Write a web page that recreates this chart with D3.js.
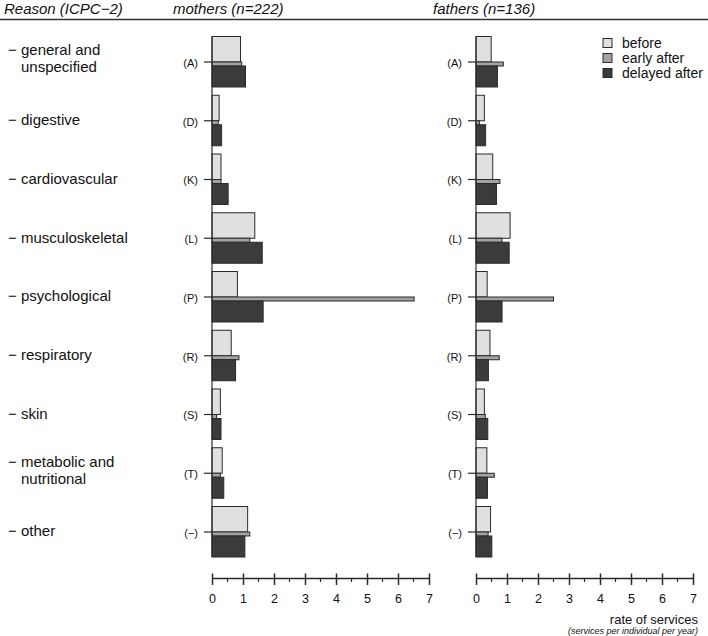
<!DOCTYPE html>
<html>
<head>
<meta charset="utf-8">
<script src="https://cdn.jsdelivr.net/npm/d3@7/dist/d3.min.js"></script>
<style>
  html, body { margin: 0; padding: 0; background: #fff; }
  svg { display: block; font-family: "Liberation Sans", Arial, Helvetica, sans-serif; }
</style>
</head>
<body>
<svg id="chart" width="708" height="636"></svg>
<script>
// ---- data ----
const codes = ["(A)", "(D)", "(K)", "(L)", "(P)", "(R)", "(S)", "(T)", "(\u2212)"];
const reasonLabels = [
  ["general and", "unspecified"],
  ["digestive"],
  ["cardiovascular"],
  ["musculoskeletal"],
  ["psychological"],
  ["respiratory"],
  ["skin"],
  ["metabolic and", "nutritional"],
  ["other"]
];
const seriesNames = ["before", "early after", "delayed after"];
const mothersBefore  = [0.92, 0.23, 0.29, 1.38, 0.82, 0.62, 0.27, 0.33, 1.15];
const mothersEarly   = [0.96, 0.20, 0.29, 1.22, 6.52, 0.87, 0.15, 0.27, 1.22];
const mothersDelayed = [1.08, 0.31, 0.52, 1.62, 1.65, 0.76, 0.29, 0.38, 1.06];
const fathersBefore  = [0.49, 0.27, 0.54, 1.10, 0.36, 0.45, 0.27, 0.35, 0.47];
const fathersEarly   = [0.88, 0.11, 0.77, 0.84, 2.50, 0.75, 0.30, 0.59, 0.39];
const fathersDelayed = [0.69, 0.31, 0.66, 1.07, 0.84, 0.40, 0.38, 0.37, 0.51];
const tickValues = [0, 1, 2, 3, 4, 5, 6, 7];
const panelTitles = ["mothers (n=222)", "fathers (n=136)"];

// ---- layout ----
const svg = d3.select("#chart");
const fills = ["#e0e0e0", "#a3a3a3", "#3b3b3b"];
const stroke = "#2a2a2a";
const y = d3.scaleLinear().domain([0, codes.length - 1]).range([62, 532]);
// bar band offsets relative to category centre (before above, early thin, delayed below)
const bandTop = [-25.5, 0, 4];
const bandBot = [0, 4, 25];

const panels = [
  { title: panelTitles[0], x0: 212, titleX: 173, series: [mothersBefore, mothersEarly, mothersDelayed] },
  { title: panelTitles[1], x0: 476, titleX: 433, series: [fathersBefore, fathersEarly, fathersDelayed] }
];

// header
svg.append("text").attr("x", 4).attr("y", 14).attr("font-size", 15).attr("font-style", "italic")
  .attr("fill", "#111").text("Reason (ICPC\u22122)");
panels.forEach(p => {
  svg.append("text").attr("x", p.titleX).attr("y", 14).attr("font-size", 15).attr("font-style", "italic")
    .attr("fill", "#111").text(p.title);
});
svg.append("line").attr("x1", 0).attr("x2", 708).attr("y1", 19.5).attr("y2", 19.5)
  .attr("stroke", "#333").attr("stroke-width", 1.5);

// category labels
reasonLabels.forEach((lines, i) => {
  const c = y(i);
  const ys = lines.length === 1 ? [c - 1] : [c - 12, c + 5];
  svg.append("text").attr("x", 8).attr("y", ys[0]).attr("dy", "0.35em")
    .attr("font-size", 15).attr("fill", "#111").text("\u2212");
  lines.forEach((t, k) => {
    svg.append("text").attr("x", 21).attr("y", ys[k]).attr("dy", "0.35em")
      .attr("font-size", 15).attr("fill", "#111").text(t);
  });
});

panels.forEach(p => {
  const x = d3.scaleLinear().domain([0, 7]).range([p.x0, p.x0 + 217]);
  const g = svg.append("g");

  // bars
  p.series.forEach((vals, s) => {
    g.selectAll(null).data(vals).enter().append("rect")
      .attr("x", x(0))
      .attr("y", (d, i) => y(i) + bandTop[s])
      .attr("width", d => x(d) - x(0))
      .attr("height", bandBot[s] - bandTop[s])
      .attr("fill", fills[s]).attr("stroke", stroke).attr("stroke-width", 1);
  });

  // vertical baseline
  g.append("line").attr("x1", x(0)).attr("x2", x(0))
    .attr("y1", y(0) + bandTop[0]).attr("y2", y(codes.length - 1) + bandBot[2])
    .attr("stroke", stroke).attr("stroke-width", 1.2);

  // category ticks and codes
  codes.forEach((code, i) => {
    g.append("line").attr("x1", x(0) - 8).attr("x2", x(0))
      .attr("y1", y(i)).attr("y2", y(i)).attr("stroke", stroke).attr("stroke-width", 1.2);
    g.append("text").attr("x", x(0) - 14).attr("y", y(i) + 1).attr("dy", "0.35em")
      .attr("text-anchor", "end").attr("font-size", 11).attr("fill", "#111").text(code);
  });

  // x axis
  const ay = 578;
  const axis = d3.axisBottom(x).tickValues(tickValues).tickSize(0).tickFormat(d3.format("d"));
  const ag = g.append("g").attr("transform", `translate(0,${ay})`).call(axis);
  ag.select(".domain").attr("stroke", stroke).attr("stroke-width", 1.5);
  ag.selectAll(".tick text").attr("font-size", 12.5).attr("font-family", "Liberation Sans, Arial, sans-serif")
    .attr("fill", "#111").attr("y", 16).attr("dy", "0.71em");
  ag.selectAll(".tick").append("line").attr("y1", -4.5).attr("y2", 7).attr("stroke", stroke).attr("stroke-width", 1.5);
  const minor = d3.range(0.5, 7, 1);
  ag.selectAll(".minor").data(minor).enter().append("line").attr("class", "minor")
    .attr("x1", d => x(d)).attr("x2", d => x(d)).attr("y1", 0).attr("y2", 4)
    .attr("stroke", stroke).attr("stroke-width", 1.2);
});

// axis title
svg.append("text").attr("x", 698).attr("y", 619).attr("dy", "0.35em").attr("text-anchor", "end")
  .attr("font-size", 13).attr("fill", "#111").text("rate of services");
svg.append("text").attr("x", 698).attr("y", 631).attr("dy", "0.35em").attr("text-anchor", "end")
  .attr("font-size", 9).attr("font-style", "italic").attr("fill", "#111").text("(services per individual per year)");

// legend
const lg = svg.append("g");
seriesNames.forEach((n, s) => {
  const ly = 43 + s * 15;
  lg.append("rect").attr("x", 603).attr("y", ly - 4.5).attr("width", 9).attr("height", 9)
    .attr("fill", fills[s]).attr("stroke", stroke).attr("stroke-width", 1);
  lg.append("text").attr("x", 622).attr("y", ly).attr("dy", "0.35em").attr("font-size", 14)
    .attr("fill", "#111").text(n);
});
</script>
</body>
</html>
